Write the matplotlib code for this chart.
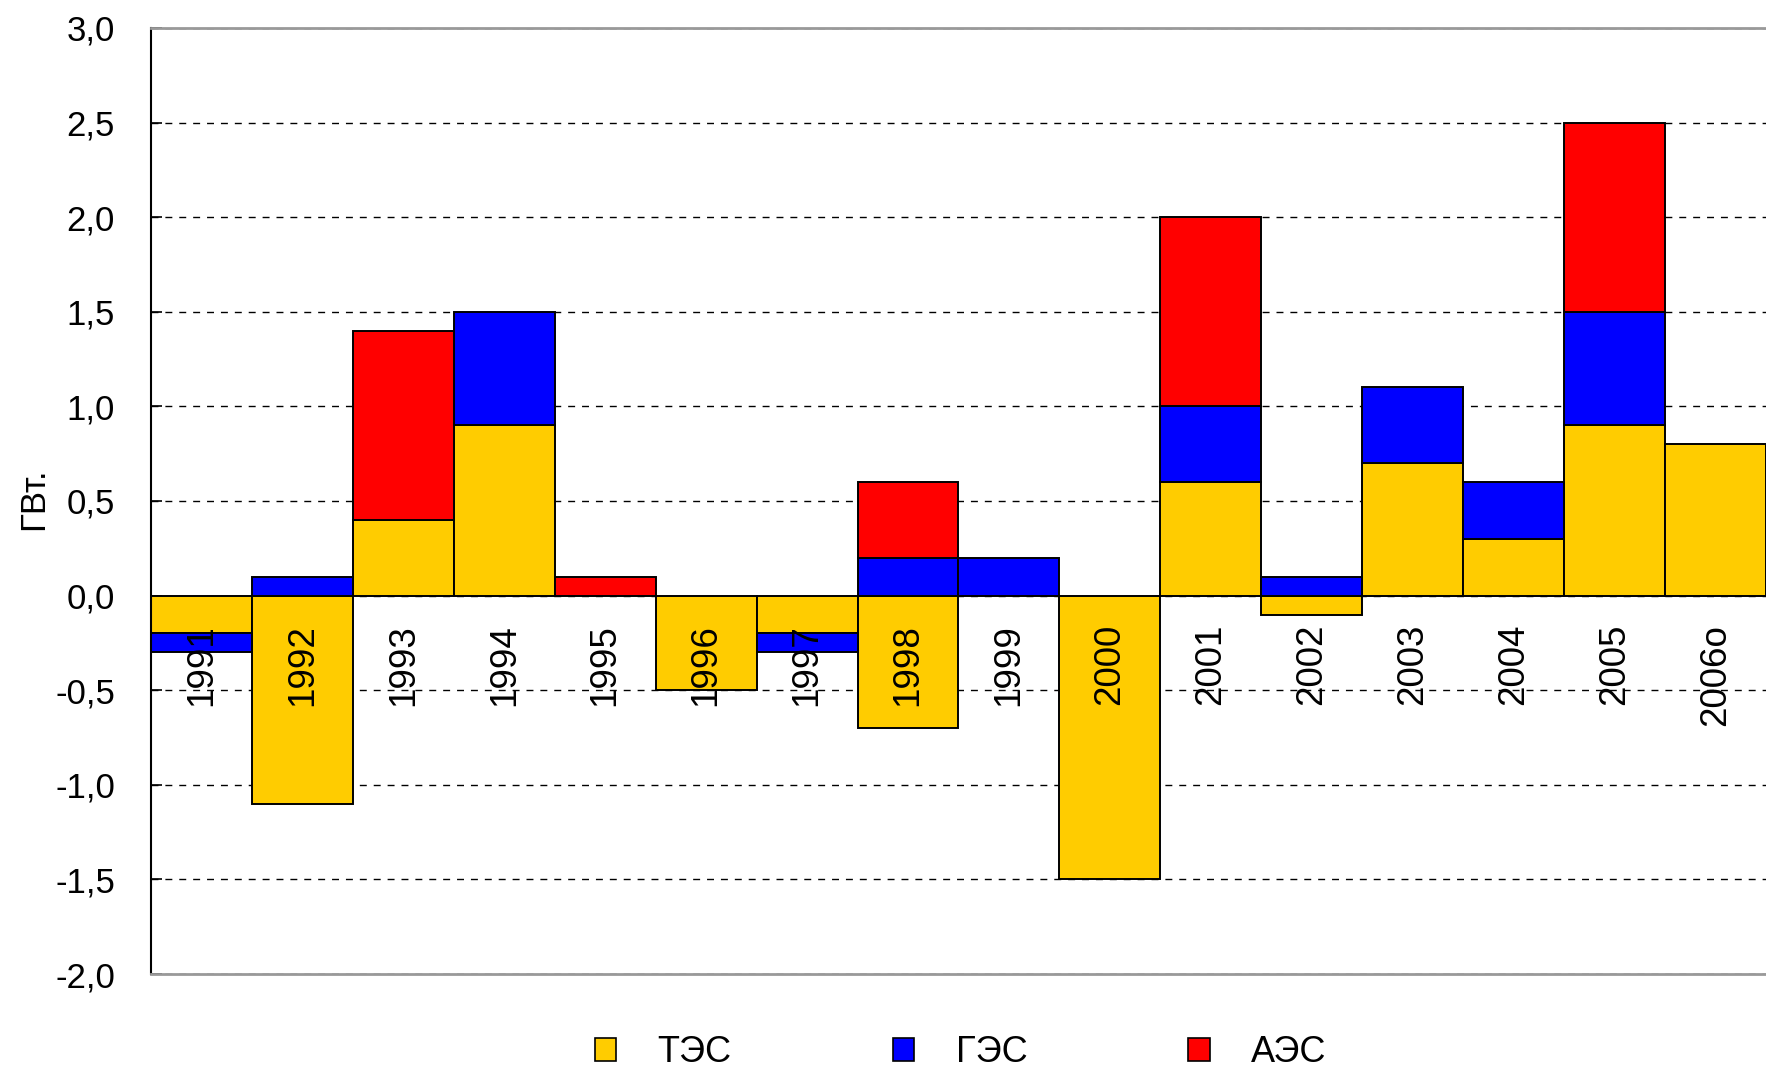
import numpy as np
import matplotlib
matplotlib.use("Agg")
import matplotlib.pyplot as plt
from matplotlib.patches import Patch

plt.rcParams['font.family'] = ['Liberation Sans', 'DejaVu Sans']

# Данные (ГВт.)
годы = ["1991", "1992", "1993", "1994", "1995", "1996", "1997", "1998",
        "1999", "2000", "2001", "2002", "2003", "2004", "2005", "2006о"]
тэс = [-0.2, -1.1, 0.4, 0.9, 0.0, -0.5, -0.2, -0.7,
       0.0, -1.5, 0.6, -0.1, 0.7, 0.3, 0.9, 0.8]
гэс = [-0.1, 0.1, 0.0, 0.6, 0.0, 0.0, -0.1, 0.2,
       0.2, 0.0, 0.4, 0.1, 0.4, 0.3, 0.6, 0.0]
аэс = [0.0, 0.0, 1.0, 0.0, 0.1, 0.0, 0.0, 0.4,
       0.0, 0.0, 1.0, 0.0, 0.0, 0.0, 1.0, 0.0]

серии = [("ТЭС", тэс, "#FFCC00"), ("ГЭС", гэс, "#0000FF"), ("АЭС", аэс, "#FF0000")]

fig = plt.figure(figsize=(17.66, 10.72), dpi=100)
ax = fig.add_axes([0.0855, 0.0914, 0.9145, 0.8825])

x = np.arange(len(годы))
низ_плюс = np.zeros(len(годы))
низ_минус = np.zeros(len(годы))

# Столбцы с накоплением: положительные вверх, отрицательные вниз
for имя, значения, цвет in серии:
    v = np.array(значения)
    низ = np.where(v >= 0, низ_плюс, низ_минус)
    маска = v != 0
    ax.bar(x[маска], v[маска], bottom=низ[маска], width=1.0, color=цвет,
           edgecolor="black", linewidth=1.4, zorder=2)
    низ_плюс += np.where(v > 0, v, 0)
    низ_минус += np.where(v < 0, v, 0)

ax.set_xlim(-0.5, 15.5)
ax.set_ylim(-2.0, 3.0)
ax.set_yticks(np.arange(-2.0, 3.01, 0.5))
ax.set_yticklabels([f"{t:.1f}".replace(".", ",") for t in np.arange(-2.0, 3.01, 0.5)])
ax.set_xticks([])
ax.tick_params(axis="y", direction="in", length=8, width=1.2, pad=26, labelsize=25)

ax.yaxis.grid(True, color="black", linestyle=(0, (5, 5)), linewidth=1.0)
ax.set_axisbelow(True)

ax.spines["right"].set_visible(False)
ax.spines["top"].set_color("#999999")
ax.spines["bottom"].set_color("#999999")
ax.spines["top"].set_linewidth(2)
ax.spines["bottom"].set_linewidth(2)
ax.spines["left"].set_color("black")
ax.spines["left"].set_linewidth(1.5)

# Подписи годов прямо у нулевой линии
for i, год in enumerate(годы):
    ax.text(i, -0.15, год, rotation=90, ha="center", va="top", fontsize=26.5, zorder=5)

fig.text(0.019, 0.535, "ГВт.", rotation=90, ha="center", va="center", fontsize=25)

ручки = [Patch(facecolor=c, edgecolor="black", linewidth=1.2, label=n) for n, _, c in серии]
fig.legend(handles=ручки, loc="center", bbox_to_anchor=(0.544, 0.018), ncol=3,
           frameon=False, fontsize=26, handlelength=0.6, handleheight=0.6,
           handletextpad=1.15, columnspacing=4.45, borderpad=0.2)

fig.savefig("out.png", dpi=100)
